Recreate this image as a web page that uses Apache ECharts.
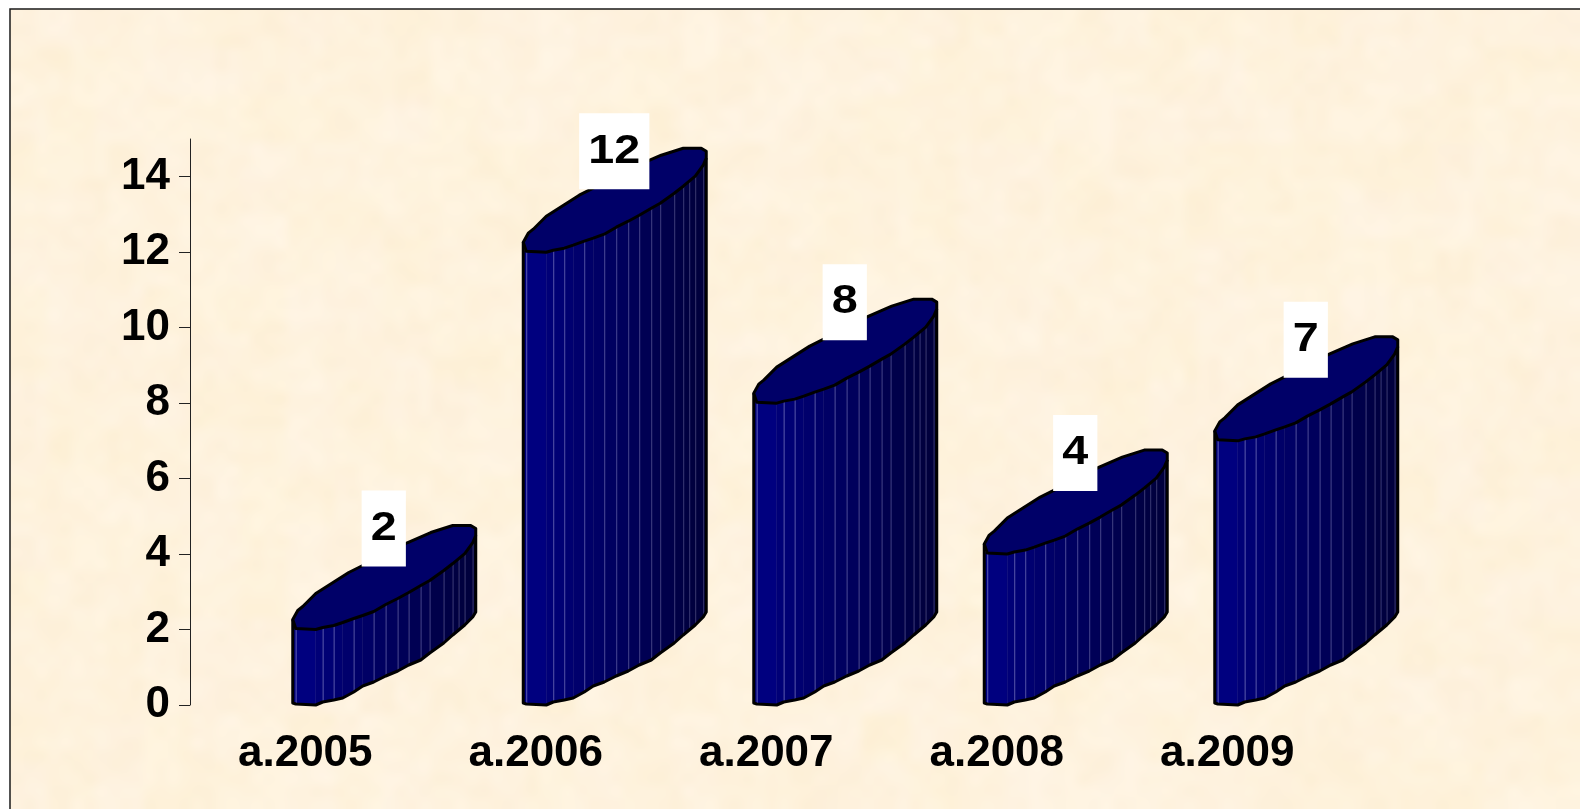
<!DOCTYPE html>
<html><head><meta charset="utf-8">
<style>html,body{margin:0;padding:0;background:#fff}#c{width:1580px;height:809px}</style>
<script src="https://cdn.jsdelivr.net/npm/echarts@6/dist/echarts.min.js"></script>
</head><body><div id="c"></div>
<script>
var categories = ['a.2005','a.2006','a.2007','a.2008','a.2009'];
var values = [2,12,8,4,7];
var yTicks = [0,2,4,6,8,10,12,14];

var font = '"Liberation Sans"';
var LEFT = -12.5;
var front = [[0,-2],[3,-1],[23,0],[30,-2],[41,-4],[50,-7],[61,-11],[70,-14],[81,-18],[93,-25],[105,-31],[116,-37],[128,-44],[137,-49],[151,-59],[160,-66],[166,-71],[172,-76],[180,-87],[183,-94]];
var bottomY = [-2,-1,0,-3,-5,-7,-13,-19,-23,-29,-34,-40,-45,-52,-62,-70,-75,-80,-88,-93];
var back = [[183,-101],[178,-104],[160,-104],[138,-97],[115,-87],[70,-64],[56,-57],[23,-36],[10,-23],[5,-19],[0,-10]];
var brightLines = {1:1,3:1,4:1,6:1,8:1,9:1,10:1,11:1,12:1,13:1,14:1,15:1,16:1,17:1,18:1};

function shade(t){ var b = Math.round(128 - 72*t); return 'rgb(0,0,'+b+')'; }

function renderBar(params, api){
  var top = api.coord([api.value(0), api.value(1)]);
  var base = api.coord([api.value(0), 0]);
  var x0 = top[0] + LEFT, yT = top[1], yB = base[1];
  var kids = [];
  for (var i = 0; i < front.length-1; i++){
    var a = front[i], b = front[i+1];
    kids.push({type:'polygon',shape:{points:[[x0+a[0],yT+a[1]],[x0+b[0],yT+b[1]],[x0+b[0],yB+bottomY[i+1]],[x0+a[0],yB+bottomY[i]]]},
      style:{fill:shade(a[0]/184),stroke:shade(a[0]/184),lineWidth:0.5}});
  }
  for (var j = 1; j < front.length-1; j++){
    if (!brightLines[j]) continue;
    var p = front[j];
    kids.push({type:'line',shape:{x1:x0+p[0]+.5,y1:yT+p[1],x2:x0+p[0]+.5,y2:yB+bottomY[j]},
      style:{stroke:'rgba(150,150,215,'+(0.55-0.28*p[0]/184)+')',lineWidth:1}});
  }
  var outline = [[x0,yT-10]];
  front.forEach(function(p,k){outline.push([x0+p[0],yB+bottomY[k]]);});
  outline.push([x0+183,yT-94]);
  var capPts = [];
  front.forEach(function(p){capPts.push([x0+p[0],yT+p[1]]);});
  back.forEach(function(p){capPts.push([x0+p[0],yT+p[1]]);});
  kids.push({type:'polyline',shape:{points:outline},
    style:{fill:null,stroke:'#000',lineWidth:3,lineJoin:'round'}});
  kids.push({type:'polygon',shape:{points:capPts.slice(1)},
    style:{fill:'#000068',stroke:'#000',lineWidth:3,lineJoin:'round'}});
  return {type:'group',children:kids};
}

function renderLabel(params, api){
  var top = api.coord([api.value(0), api.value(1)]);
  return {type:'text',x:top[0]+LEFT+91,y:top[1]-101,z2:100,scaleX:1.14,
    style:{text:String(api.value(1)),fill:'#000',font:'bold 41px '+font,align:'center',verticalAlign:'middle',lineHeight:41,
      backgroundColor:'#fff',padding:[18,8,17,8]}};
}

/* decorative parchment mottling of the slide background */
function parchment(){
  var w = 132, h = 68, s = document.createElement('canvas');
  s.width = w; s.height = h;
  var g = s.getContext('2d');
  function hash(x,y){ var v = Math.sin(x*12.9898+y*78.233)*43758.5453; return v-Math.floor(v); }
  for (var y=0;y<h;y++) for (var x=0;x<w;x++){
    var n = hash(x,y)-.5, m = hash(Math.floor(x/3)+7,Math.floor(y/3)+3)-.5;
    var d = n*5+m*5;
    var yellow = (hash(Math.floor(x/4)+31,Math.floor(y/4)+11)-.5)*5;
    g.fillStyle='rgb('+Math.round(254+d*.2)+','+Math.round(242+d*.6)+','+Math.round(221+d*1.2+yellow)+')';
    g.fillRect(x,y,1,1);
  }
  var c = document.createElement('canvas');
  c.width = 1580; c.height = 809;
  var k = c.getContext('2d');
  k.imageSmoothingEnabled = true;
  k.imageSmoothingQuality = 'high';
  k.drawImage(s,0,0,1580,809);
  return c;
}

var data = categories.map(function(c,i){return [i,values[i]];});
var chart = echarts.init(document.getElementById('c'),null,{renderer:'canvas'});
chart.setOption({
  animation:false,
  backgroundColor:'#fff',
  graphic:[{type:'rect',z:-10,silent:true,shape:{x:10,y:9,width:1590,height:820},
    style:{fill:{image:parchment(),repeat:'no-repeat'},stroke:'#1a1a1a',lineWidth:1.5}}],
  grid:{left:190,top:139,right:237.5,bottom:104,containLabel:false},
  xAxis:{type:'category',data:categories,
    axisLine:{show:false},axisTick:{show:false},
    axisLabel:{margin:27,color:'#000',fontFamily:font,fontWeight:'bold',fontSize:44,interval:0}},
  yAxis:{type:'value',min:0,max:15,interval:2,
    splitLine:{show:false},
    axisLine:{show:true,lineStyle:{color:'#222',width:1}},
    axisTick:{show:true,length:11,customValues:yTicks,lineStyle:{color:'#222',width:1}},
    axisLabel:{margin:20,color:'#000',fontFamily:font,fontWeight:'bold',fontSize:44,customValues:yTicks}},
  series:[
    {type:'custom',coordinateSystem:'cartesian2d',clip:false,data:data,encode:{x:0,y:1},renderItem:renderBar,silent:true,z:2},
    {type:'custom',coordinateSystem:'cartesian2d',clip:false,data:data,encode:{x:0,y:1},renderItem:renderLabel,silent:true,z:5}
  ]
});
</script></body></html>
